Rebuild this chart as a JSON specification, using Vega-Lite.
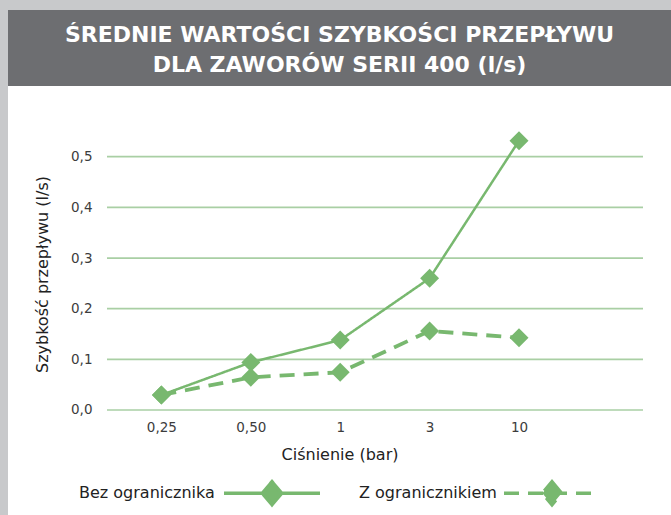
{
  "$schema": "https://vega.github.io/schema/vega-lite/v6.json",
  "background": "#c8c9cb",
  "padding": {"left": 8, "top": 10, "right": 0, "bottom": 0},
  "spacing": 0,
  "bounds": "flush",
  "vconcat": [
    {
      "width": 663,
      "height": 76,
      "view": {"fill": "#6d6e71", "stroke": null},
      "data": {"values": [
        {"n": 1, "t": "ŚREDNIE WARTOŚCI SZYBKOŚCI PRZEPŁYWU"},
        {"n": 2, "t": "DLA ZAWORÓW SERII 400 (l/s)"}
      ]},
      "mark": {"type": "text", "font": "DejaVu Sans", "fontWeight": "bold", "fontSize": 22, "color": "#ffffff", "align": "center", "baseline": "alphabetic"},
      "encoding": {
        "y": {"field": "n", "type": "quantitative", "scale": {"domain": [-0.0767, 2.4567], "reverse": true, "nice": false, "zero": false}, "axis": null},
        "text": {"field": "t", "type": "nominal"}
      }
    },
    {
      "width": 663,
      "height": 429,
      "view": {"fill": "#ffffff", "stroke": null},
      "data": {"values": [
        {"s": "Bez ogranicznika", "p": "0,25", "i": 0, "v": 0.0296},
        {"s": "Bez ogranicznika", "p": "0,50", "i": 1, "v": 0.094},
        {"s": "Bez ogranicznika", "p": "1", "i": 2, "v": 0.138},
        {"s": "Bez ogranicznika", "p": "3", "i": 3, "v": 0.260},
        {"s": "Bez ogranicznika", "p": "10", "i": 4, "v": 0.5316},
        {"s": "Z ogranicznikiem", "p": "0,25", "i": 0, "v": 0.0296},
        {"s": "Z ogranicznikiem", "p": "0,50", "i": 1, "v": 0.0645},
        {"s": "Z ogranicznikiem", "p": "1", "i": 2, "v": 0.0744},
        {"s": "Z ogranicznikiem", "p": "3", "i": 3, "v": 0.156},
        {"s": "Z ogranicznikiem", "p": "10", "i": 4, "v": 0.1427}
      ]},
      "layer": [
        {
          "data": {"values": [{"g": 0}, {"g": 0.1}, {"g": 0.2}, {"g": 0.3}, {"g": 0.4}, {"g": 0.5}]},
          "mark": {"type": "rule", "orient": "horizontal", "stroke": "#a9cfa4", "strokeWidth": 1.7},
          "encoding": {
            "y": {
              "field": "g", "type": "quantitative",
              "scale": {"domain": [-0.2073, 0.6396], "nice": false, "zero": false},
              "axis": {
                "values": [0, 0.1, 0.2, 0.3, 0.4, 0.5],
                "labelExpr": "replace(format(datum.value, '.1f'), '.', ',')",
                "title": "Szybkość przepływu (l/s)",
                "offset": -99,
                "domain": false, "ticks": false, "grid": false,
                "labelFont": "DejaVu Sans", "labelFontSize": 13.5, "labelColor": "#3c3c3c", "labelPadding": 15,
                "titleFont": "DejaVu Sans", "titleFontSize": 16, "titleFontWeight": "normal", "titleColor": "#222222", "titlePadding": 20, "titleY": 188
              }
            },
            "x": {
              "datum": -0.6085,
              "scale": {"domain": [-1.7159, 5.7002], "nice": false, "zero": false},
              "axis": {
                "values": [0, 1, 2, 3, 4],
                "labelExpr": "['0,25','0,50','1','3','10'][datum.value]",
                "title": "Ciśnienie (bar)",
                "offset": -105,
                "domain": false, "ticks": false, "grid": false,
                "labelFont": "DejaVu Sans", "labelFontSize": 13.5, "labelColor": "#3c3c3c", "labelPadding": 10,
                "titleFont": "DejaVu Sans", "titleFontSize": 16, "titleFontWeight": "normal", "titleColor": "#222222", "titlePadding": 13
              }
            },
            "x2": {"datum": 5.387}
          }
        },
        {
          "transform": [{"filter": "datum.s == 'Bez ogranicznika'"}],
          "mark": {"type": "line", "color": "#78b86f", "strokeWidth": 2.5},
          "encoding": {
            "x": {"field": "i", "type": "quantitative"},
            "y": {"field": "v", "type": "quantitative"},
            "strokeDash": {
              "field": "s", "type": "nominal",
              "scale": {"domain": ["Bez ogranicznika", "Z ogranicznikiem"], "range": [[1, 0], [15, 9]]},
              "legend": {
                "orient": "none", "legendX": 71, "legendY": 433,
                "direction": "horizontal", "title": null, "padding": 0,
                "symbolType": "M-1,0H1M0,-0.24L0.2,0L0,0.24L-0.2,0Z",
                "symbolSize": 9216, "symbolStrokeWidth": 3.5,
                "symbolStrokeColor": "#78b86f", "symbolFillColor": "#78b86f",
                "symbolOffset": 143, "labelOffset": -243, "labelAlign": "left",
                "labelFont": "DejaVu Sans", "labelFontSize": 16, "labelColor": "#222222", "labelLimit": 220,
                "columnPadding": 32,
                "encode": {"symbols": {"update": {"fill": {"value": "#78b86f"}, "stroke": {"value": "#78b86f"}, "opacity": {"value": 1}}}}
              }
            }
          }
        },
        {
          "transform": [{"filter": "datum.s == 'Z ogranicznikiem'"}],
          "mark": {"type": "line", "color": "#78b86f", "strokeWidth": 3.8},
          "encoding": {
            "x": {"field": "i", "type": "quantitative"},
            "y": {"field": "v", "type": "quantitative"},
            "strokeDash": {
              "field": "s", "type": "nominal",
              "scale": {"domain": ["Bez ogranicznika", "Z ogranicznikiem"], "range": [[1, 0], [15, 9]]}
            }
          }
        },
        {
          "mark": {"type": "point", "shape": "diamond", "filled": true, "size": 360, "color": "#78b86f", "opacity": 1},
          "encoding": {
            "x": {"field": "i", "type": "quantitative"},
            "y": {"field": "v", "type": "quantitative"}
          }
        }
      ]
    }
  ]
}
